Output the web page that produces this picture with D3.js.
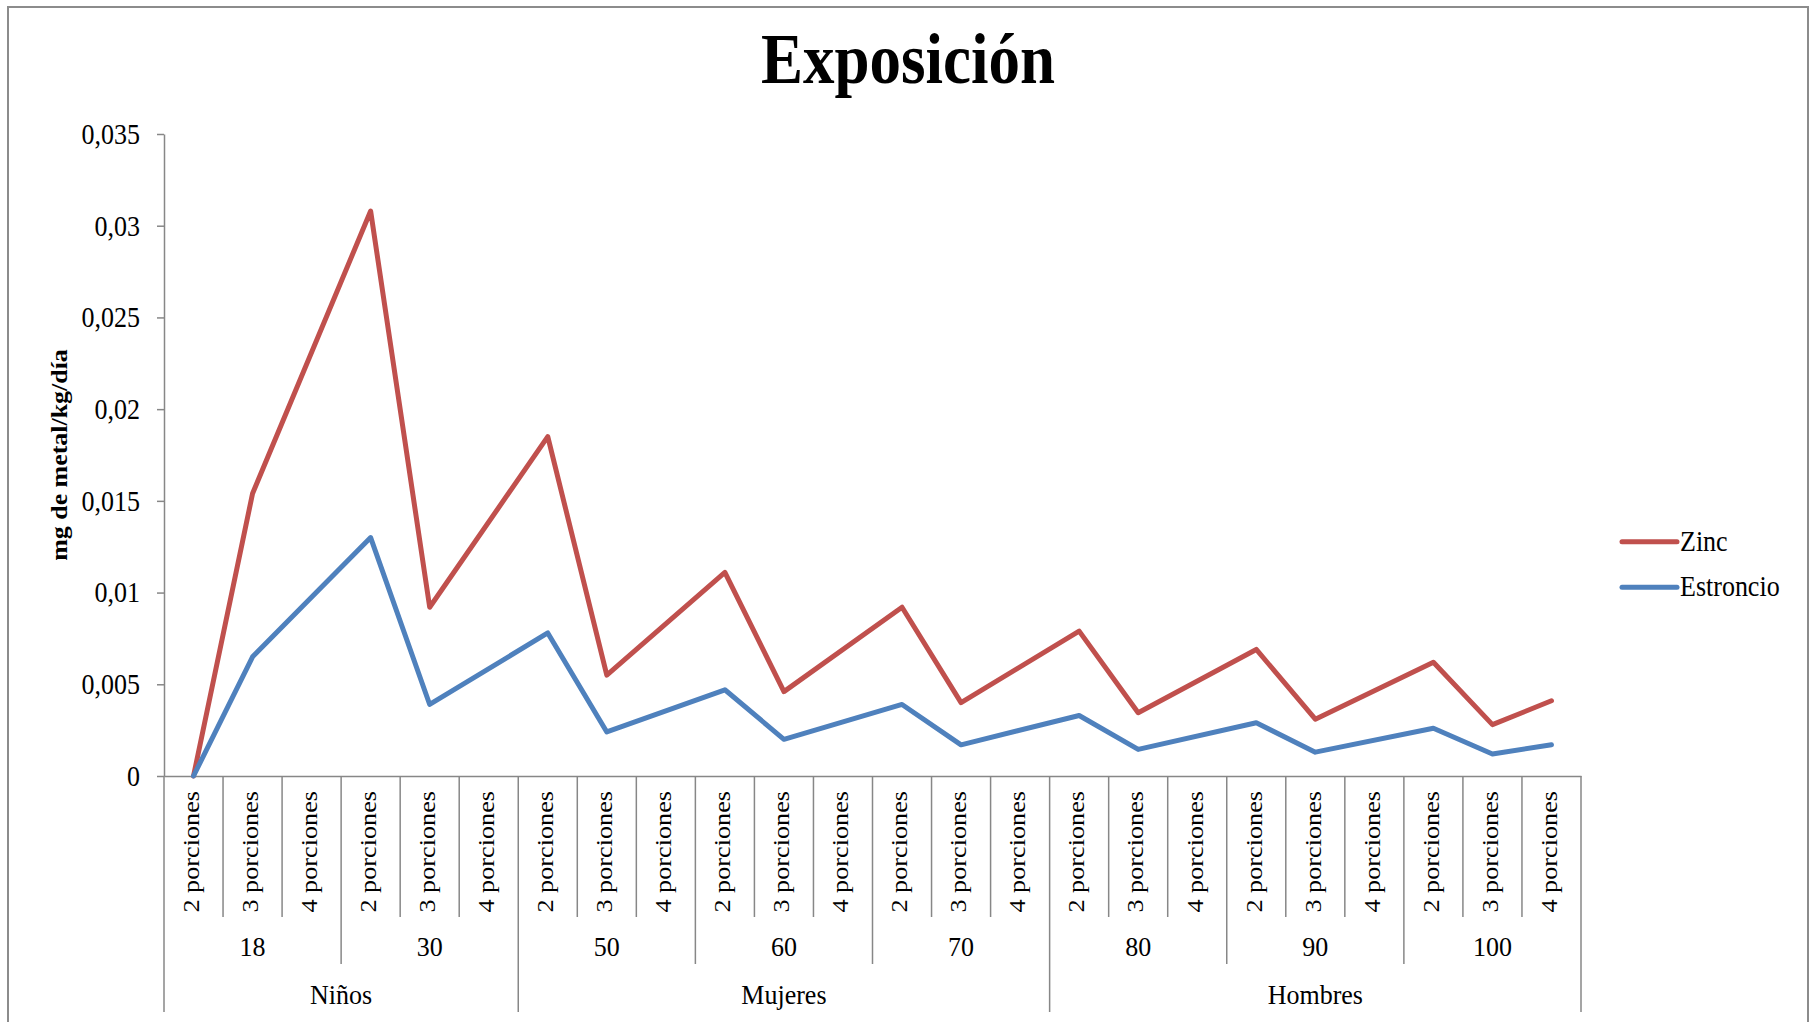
<!DOCTYPE html>
<html>
<head>
<meta charset="utf-8">
<script src="https://cdn.jsdelivr.net/npm/d3@7"></script>
<style>
  html, body { margin: 0; padding: 0; background: #fff; }
  svg { display: block; }
  text { font-family: "Liberation Serif", "Times New Roman", serif; fill: #000; }
</style>
</head>
<body>
<svg id="chart" width="1811" height="1022"></svg>
<script>
// ---- data ----
const porciones = ["2 porciones", "3 porciones", "4 porciones"];
const edades = ["18", "30", "50", "60", "70", "80", "90", "100"];
const grupos = ["Niños", "Mujeres", "Hombres"];
const edadesPorGrupo = [2, 3, 3];
const series = ["Zinc", "Estroncio"];
const yTicks = [0, 0.005, 0.01, 0.015, 0.02, 0.025, 0.03, 0.035];

// mg de metal/kg/día; null = sin dato (la línea une los puntos vecinos)
const zinc = [0, 0.0154, null, 0.0308, 0.0092, null, 0.0185, 0.0055, null, 0.0111, 0.0046, null,
              0.0092, 0.0040, null, 0.0079, 0.00345, null, 0.0069, 0.0031, null, 0.0062, 0.0028, 0.0041];
const estroncio = [0, 0.0065, null, 0.0130, 0.0039, null, 0.0078, 0.0024, null, 0.0047, 0.0020, null,
                   0.0039, 0.0017, null, 0.0033, 0.00145, null, 0.0029, 0.0013, null, 0.0026, 0.0012, 0.0017];

const colores = ["#C0504D", "#4F81BD"];
const gris = "#878787";

// ---- layout ----
const svg = d3.select("#chart");
const plotLeft = 164, plotRight = 1581, plotTop = 134, plotBottom = 776;
const nCat = edades.length * porciones.length;

const x = d3.scaleBand().domain(d3.range(nCat)).range([plotLeft, plotRight]).padding(0);
const y = d3.scaleLinear().domain([0, 0.035]).range([plotBottom, plotTop]);
const cx = i => x(i) + x.bandwidth() / 2;
const edge = i => i === nCat ? plotRight : x(i);

// outer frame
svg.append("rect")
  .attr("x", 8).attr("y", 7).attr("width", 1800).attr("height", 1040)
  .attr("fill", "#fff").attr("stroke", "#8c8c8c").attr("stroke-width", 2);

// title
svg.append("text")
  .attr("transform", "translate(908,83) scale(1,1.15)")
  .attr("text-anchor", "middle")
  .style("font-size", "63px").style("font-weight", "bold")
  .text("Exposición");

// y axis
const yAxis = svg.append("g")
  .attr("transform", `translate(${plotLeft},0)`)
  .call(d3.axisLeft(y).tickValues(yTicks).tickSize(7).tickSizeOuter(0).tickFormat(""));
yAxis.selectAll("path, line").attr("stroke", gris).attr("stroke-width", 1.5);

const fmt = v => v === 0 ? "0" : String(+v.toFixed(3)).replace(".", ",");
svg.append("g").selectAll("text").data(yTicks).join("text")
  .attr("transform", d => `translate(140,${y(d) + 9.8}) scale(1,1.12)`)
  .attr("text-anchor", "end")
  .style("font-size", "26px")
  .text(fmt);

// y axis title
svg.append("text")
  .attr("transform", `translate(66.5,${(plotTop + plotBottom) / 2}) scale(1,1.08) rotate(-90)`)
  .attr("text-anchor", "middle")
  .style("font-size", "24px").style("font-weight", "bold")
  .text("mg de metal/kg/día");

// x axis baseline
const xAxis = svg.append("g")
  .attr("transform", `translate(0,${plotBottom})`)
  .call(d3.axisBottom(x).tickSize(0).tickFormat(""));
xAxis.select(".domain").attr("stroke", gris).attr("stroke-width", 1.5);

// category separators (three levels)
const grupoLimites = [0];
edadesPorGrupo.forEach(n => grupoLimites.push(grupoLimites[grupoLimites.length - 1] + n * porciones.length));
const bounds = d3.range(nCat + 1).map(i => {
  let y2 = 917;
  if (i % porciones.length === 0) y2 = 964;
  if (grupoLimites.includes(i)) y2 = 1012;
  return { pos: edge(i), y2 };
});
svg.append("g").selectAll("line").data(bounds).join("line")
  .attr("x1", d => d.pos).attr("x2", d => d.pos)
  .attr("y1", plotBottom).attr("y2", d => d.y2)
  .attr("stroke", gris).attr("stroke-width", 1.5);

// level 1: portions (rotated)
const cats = d3.range(nCat).map(i => ({ i, label: porciones[i % porciones.length] }));
svg.append("g").selectAll("text").data(cats).join("text")
  .attr("transform", d => `translate(${cx(d.i) + 5.3},791) scale(1,1.14) rotate(-90)`)
  .attr("text-anchor", "end")
  .style("font-size", "23px")
  .text(d => d.label);

// level 2: ages
svg.append("g").selectAll("text").data(edades).join("text")
  .attr("transform", (d, k) => {
    const c = (edge(k * 3) + edge(k * 3 + 3)) / 2;
    return `translate(${c},956) scale(1,1.05)`;
  })
  .attr("text-anchor", "middle")
  .style("font-size", "26px")
  .text(d => d);

// level 3: groups
svg.append("g").selectAll("text").data(grupos).join("text")
  .attr("transform", (d, k) => {
    const c = (edge(grupoLimites[k]) + edge(grupoLimites[k + 1])) / 2;
    return `translate(${c},1004) scale(1,1.05)`;
  })
  .attr("text-anchor", "middle")
  .style("font-size", "26px")
  .text(d => d);

// lines
const line = d3.line().x(d => cx(d.i)).y(d => y(d.v));
[zinc, estroncio].forEach((vals, s) => {
  const pts = vals.map((v, i) => ({ i, v })).filter(d => d.v !== null);
  svg.append("path")
    .datum(pts)
    .attr("d", line)
    .attr("fill", "none")
    .attr("stroke", colores[s])
    .attr("stroke-width", 5)
    .attr("stroke-linejoin", "round")
    .attr("stroke-linecap", "round");
});

// legend
const legend = svg.append("g").selectAll("g").data(series).join("g")
  .attr("transform", (d, k) => `translate(1622,${541.7 + k * 45.6})`);
legend.append("line")
  .attr("x1", 0).attr("x2", 55).attr("y1", 0).attr("y2", 0)
  .attr("stroke", (d, k) => colores[k]).attr("stroke-width", 5).attr("stroke-linecap", "round");
legend.append("text")
  .attr("transform", "translate(58,9) scale(1,1.1)")
  .style("font-size", "26px")
  .text(d => d);
</script>
</body>
</html>
